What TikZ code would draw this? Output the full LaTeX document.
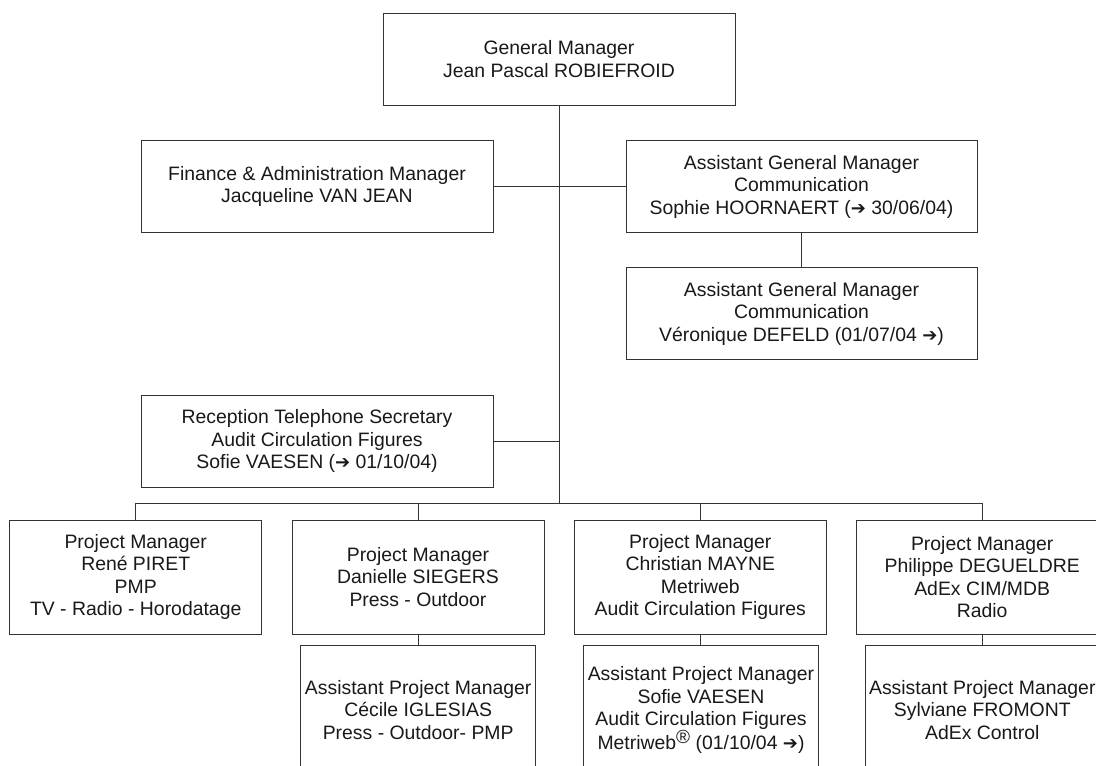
\documentclass[tikz,border=0pt]{standalone}
\usepackage{fontspec}
\setmainfont{Liberation Sans}
\newfontfamily\dejavu{DejaVu Sans}
\newcommand{\rarr}{{\dejavu\bfseries\fontsize{18}{18}\selectfont ➔}}
\newcommand{\regmark}{\raisebox{0.55ex}{\fontsize{19}{19}\selectfont ®}}
\begin{document}
\begin{tikzpicture}[x=1pt,y=-1pt,
  line width=1pt,
  box/.style={draw=black!80, rectangle, inner sep=0pt, align=center,
    text=black!90, font=\fontsize{19.4}{22.5}\selectfont},
  wide/.style={box, minimum width=352pt, minimum height=92.5pt},
  pmbox/.style={box, minimum width=252pt, minimum height=114pt},
  apmbox/.style={box, minimum width=234.5pt, minimum height=130pt},
  link/.style={draw=black!80, line width=0.9pt}]
\useasboundingbox (0,0) rectangle (1096,766);
\clip (0,0) rectangle (1096,766);
\fill[white] (0,0) rectangle (1096,766);

\node[wide] (gm) at (559,59.3) {General Manager\\Jean Pascal ROBIEFROID};
\node[wide] (fin) at (317,186.5) {Finance \& Administration Manager\\Jacqueline VAN JEAN};
\node[wide, minimum width=351pt] (agm) at (801.5,186.5) {Assistant General Manager\\Communication\\Sophie HOORNAERT (\rarr\ 30/06/04)};
\node[wide, minimum width=351pt] (agm2) at (801.5,313.7) {Assistant General Manager\\Communication\\Véronique DEFELD (01/07/04 \rarr)};
\node[wide, minimum height=92pt] (rec) at (317,441) {Reception Telephone Secretary\\Audit Circulation Figures\\Sofie VAESEN (\rarr\ 01/10/04)};

\node[pmbox] (pm1) at (135.7,577) {Project Manager\\René PIRET\\PMP\\TV - Radio - Horodatage};
\node[pmbox] (pm2) at (418,577) {Project Manager\\Danielle SIEGERS\\Press - Outdoor};
\node[pmbox] (pm3) at (700.3,577) {Project Manager\\Christian MAYNE\\Metriweb\\Audit Circulation Figures};
\node[pmbox] (pm4) at (982.2,577) {Project Manager\\Philippe DEGUELDRE\\AdEx CIM/MDB\\Radio};

\node[apmbox] (apm1) at (418.2,710) {Assistant Project Manager\\Cécile IGLESIAS\\Press - Outdoor- PMP};
\node[apmbox] (apm2) at (701,710) {Assistant Project Manager\\Sofie VAESEN\\Audit Circulation Figures\\Metriweb\regmark\ (01/10/04 \rarr)};
\node[apmbox] (apm3) at (982.3,710) {Assistant Project Manager\\Sylviane FROMONT\\AdEx Control};

\coordinate (bus) at (559,503.3);
\draw[link] (gm.south) -- (bus);
\draw[link] (fin.east) -- (agm.west);
\draw[link] (agm.south) -- (agm2.north);
\draw[link] (rec.east) -- (rec.east -| bus);
\draw[link] (pm1.north) |- (bus) -| (pm4.north);
\draw[link] (pm2.north) -- (pm2.north |- bus);
\draw[link] (pm3.north) -- (pm3.north |- bus);
\draw[link] (pm2.south) -- (pm2.south -| apm1.north) -- (apm1.north);
\draw[link] (pm3.south) -- (pm3.south |- apm2.north);
\draw[link] (pm4.south) -- (pm4.south |- apm3.north);
\end{tikzpicture}
\end{document}
